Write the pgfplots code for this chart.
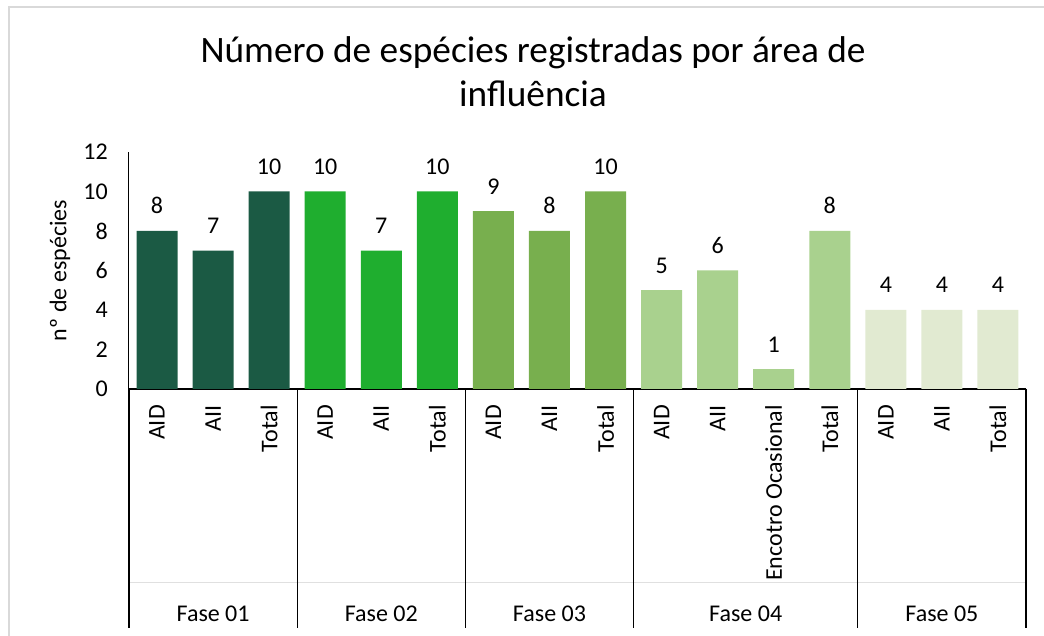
\documentclass[border=0pt]{standalone}
\usepackage{fontspec}
\setmainfont{Carlito}
\usepackage{pgfplots}
\usetikzlibrary{calc}
\pgfplotsset{compat=1.18}
\definecolor{fA}{HTML}{1B5A44}
\definecolor{fB}{HTML}{1FAE2F}
\definecolor{fC}{HTML}{78AF4E}
\definecolor{fD}{HTML}{A9D18E}
\definecolor{fE}{HTML}{E1EAD1}
\newcommand{\lf}{\fontsize{24}{28}\selectfont}
\begin{document}
\begin{tikzpicture}
\useasboundingbox (-129pt,-247pt) rectangle (915pt,389pt);
\draw[black!15, line width=1.5pt] (-120pt,-260pt) -- (-120pt,382pt) -- (930pt,382pt);
\node[anchor=base, font=\fontsize{37.3}{44}\selectfont] at (404pt,326pt) {Número de espécies registradas por área de};
\node[anchor=base, font=\fontsize{37.3}{44}\selectfont] at (404pt,282pt) {influência};
\node[rotate=90, font=\lf] at (-69pt,118.5pt) {nº de espécies};
\begin{axis}[
  at={(0,0)}, anchor=south west,
  scale only axis, width=897pt, height=237pt,
  xmin=-0.5, xmax=15.5, ymin=0, ymax=12,
  ytick={0,2,...,12},
  xtick={0,...,15},
  xticklabels={AID,AII,Total,AID,AII,Total,AID,AII,Total,AID,AII,Encotro Ocasional,Total,AID,AII,Total},
  axis x line*=bottom, axis y line*=left,
  x axis line style={line width=1.3pt},
  y axis line style={line width=1pt},
  major tick length=0pt,
  tick label style={font=\lf},
  /pgf/number format/assume math mode=true,
  yticklabel style={anchor=east, inner sep=0pt},
  yticklabel shift=21pt,
  xticklabel style={rotate=90, anchor=east, inner sep=0pt},
  xticklabel shift=16pt,
  ybar, bar width=41pt, bar shift=0pt,
  nodes near coords,
  every node near coord/.style={font=\lf, anchor=base, inner sep=0pt, yshift=17pt, black},
  clip=false,
]
\addplot[fill=fA, draw=none] coordinates {(0,8) (1,7) (2,10)};
\addplot[fill=fB, draw=none] coordinates {(3,10) (4,7) (5,10)};
\addplot[fill=fC, draw=none] coordinates {(6,9) (7,8) (8,10)};
\addplot[fill=fD, draw=none] coordinates {(9,5) (10,6) (11,1) (12,8)};
\addplot[fill=fE, draw=none] coordinates {(13,4) (14,4) (15,4)};
\draw[black!12, line width=0.6pt] ([yshift=-193pt]axis cs:-0.5,0) -- ([yshift=-193pt]axis cs:15.5,0);
\draw[black, line width=1.1pt] (axis cs:-0.5,0) -- ([yshift=-239pt]axis cs:-0.5,0);
\draw[black, line width=1.1pt] (axis cs:2.5,0) -- ([yshift=-239pt]axis cs:2.5,0);
\draw[black, line width=1.1pt] (axis cs:5.5,0) -- ([yshift=-239pt]axis cs:5.5,0);
\draw[black, line width=1.1pt] (axis cs:8.5,0) -- ([yshift=-239pt]axis cs:8.5,0);
\draw[black, line width=1.1pt] (axis cs:12.5,0) -- ([yshift=-239pt]axis cs:12.5,0);
\draw[black, line width=1.1pt] (axis cs:15.5,0) -- ([yshift=-239pt]axis cs:15.5,0);
\node[anchor=base, font=\lf] at ([yshift=-232pt]axis cs:1,0) {Fase 01};
\node[anchor=base, font=\lf] at ([yshift=-232pt]axis cs:4,0) {Fase 02};
\node[anchor=base, font=\lf] at ([yshift=-232pt]axis cs:7,0) {Fase 03};
\node[anchor=base, font=\lf] at ([yshift=-232pt]axis cs:10.5,0) {Fase 04};
\node[anchor=base, font=\lf] at ([yshift=-232pt]axis cs:14,0) {Fase 05};
\end{axis}
\end{tikzpicture}
\end{document}
